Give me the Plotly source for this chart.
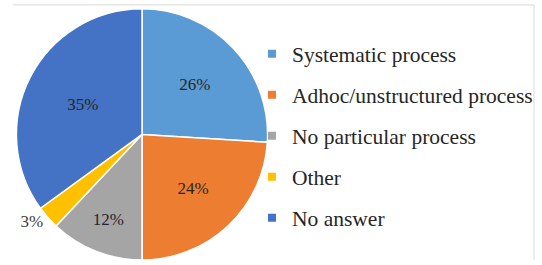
import plotly.graph_objects as go

categories = ["Systematic process", "Adhoc/unstructured process", "No particular process", "Other", "No answer"]
values = [26, 24, 12, 3, 35]
colors = ["#5B9BD5", "#ED7D31", "#A5A5A5", "#FFC000", "#4472C4"]
text_positions = ["inside", "inside", "inside", "outside", "inside"]

fig = go.Figure()
fig.add_trace(go.Pie(
    labels=categories,
    values=values,
    sort=False,
    direction="clockwise",
    rotation=0,
    marker=dict(colors=colors, line=dict(color="white", width=1.5)),
    textinfo="percent",
    texttemplate="%{percent:.0%}",
    textposition=text_positions,
    insidetextorientation="horizontal",
    textfont=dict(family="Liberation Serif", size=17, color="#262626"),
    outsidetextfont=dict(family="Liberation Serif", size=17, color="#404040"),
    domain=dict(x=[14/542, 270/542], y=[0, 256/265]),
    showlegend=False,
))

for name, col in zip(categories, colors):
    fig.add_trace(go.Scatter(
        x=[None], y=[None], mode="markers", name=name,
        marker=dict(symbol="square", size=8, color=col),
        legendgroup=name, showlegend=True,
    ))

fig.update_layout(
    width=542, height=265,
    margin=dict(l=0, r=0, t=0, b=0),
    paper_bgcolor="white", plot_bgcolor="white",
    xaxis=dict(visible=False), yaxis=dict(visible=False),
    legend=dict(
        x=252/542, y=1 - 34/265, xanchor="left", yanchor="top",
        font=dict(family="Liberation Serif", size=21.5, color="#262626"),
        tracegroupgap=10, bgcolor="rgba(0,0,0,0)",
    ),
    shapes=[
        dict(type="line", xref="paper", yref="paper", x0=13/542, x1=534/542, y0=1-5/265, y1=1-5/265,
             line=dict(color="#D9D9D9", width=1)),
        dict(type="line", xref="paper", yref="paper", x0=534/542, x1=534/542, y0=0, y1=1-5/265,
             line=dict(color="#D9D9D9", width=1)),
    ],
)

fig.write_html("out.html", config={"displayModeBar": False},
               post_script="document.body.style.margin='0';")
